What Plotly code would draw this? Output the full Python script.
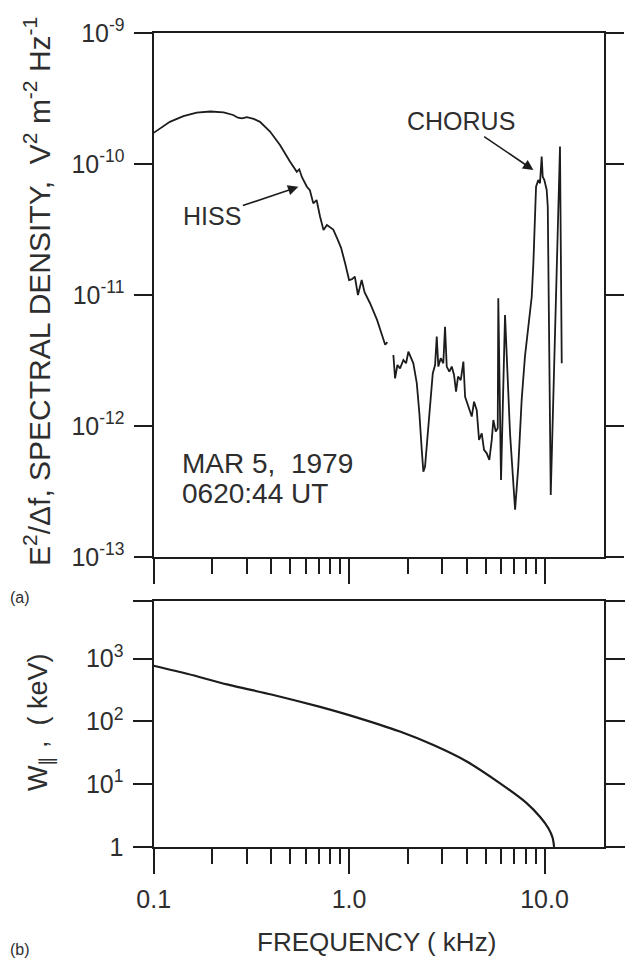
import math
import plotly.graph_objects as go

# ---------------- data ----------------
# Panel (a): spectral density vs frequency (kHz); None marks the gap in the trace
freq_khz = [0.100, 0.110, 0.121, 0.142, 0.166, 0.195, 0.228, 0.255, 0.270, 0.283,
            0.300, 0.325, 0.350, 0.394, 0.443, 0.499, 0.520, 0.540, 0.556, 0.574,
            0.608, 0.630, 0.656, 0.682, 0.710, 0.740, 0.770, 0.800, 0.830, 0.870,
            0.910, 0.955, 1.000, 1.035, 1.070, 1.110, 1.160, 1.200, 1.280, 1.390,
            1.460, 1.530, 1.570, None,
            1.685, 1.719, 1.767, 1.823, 1.896, 1.957, 2.011, 2.075, 2.132, 2.220,
            2.289, 2.354, 2.399, 2.447, 2.514, 2.596, 2.680, 2.754, 2.809, 2.862,
            2.944, 3.035, 3.097, 3.160, 3.258, 3.352, 3.444, 3.526, 3.610, 3.728,
            3.845, 3.923, 4.077, 4.243, 4.360, 4.500, 4.624, 4.773, 4.903, 5.063,
            5.220, 5.370, 5.472, 5.628, 5.763, 5.800, 5.990, 6.280, 6.660, 7.070,
            7.340, 7.640, 7.940, 8.260, 8.600, 8.770, 8.940, 9.050, 9.290, 9.480,
            9.670, 9.790, 9.980, 10.26, 10.39, 10.76, 12.00, 12.25]
spectral_density = [1.73e-10, 1.91e-10, 2.10e-10, 2.32e-10, 2.47e-10, 2.52e-10, 2.48e-10, 2.37e-10, 2.26e-10, 2.23e-10,
                    2.28e-10, 2.21e-10, 2.10e-10, 1.77e-10, 1.40e-10, 1.04e-10, 9.55e-11, 8.73e-11, 9.12e-11, 7.94e-11,
                    6.71e-11, 6.31e-11, 5.01e-11, 5.31e-11, 3.98e-11, 3.13e-11, 3.42e-11, 3.31e-11, 3.16e-11, 2.69e-11,
                    2.29e-11, 1.74e-11, 1.30e-11, 1.32e-11, 1.38e-11, 1.00e-11, 1.30e-11, 1.05e-11, 8.65e-12, 6.46e-12,
                    5.13e-12, 4.17e-12, 4.37e-12, None,
                    3.48e-12, 2.31e-12, 2.92e-12, 2.75e-12, 3.19e-12, 3.01e-12, 3.69e-12, 3.29e-12, 3.01e-12, 2.12e-12,
                    1.25e-12, 6.56e-13, 4.48e-13, 4.89e-13, 7.82e-13, 1.40e-12, 2.52e-12, 2.92e-12, 4.81e-12, 2.84e-12,
                    3.29e-12, 3.01e-12, 5.73e-12, 2.84e-12, 2.60e-12, 2.84e-12, 2.45e-12, 1.83e-12, 2.38e-12, 2.24e-12,
                    3.10e-12, 1.67e-12, 1.40e-12, 1.18e-12, 1.53e-12, 1.32e-12, 7.82e-13, 8.79e-13, 6.56e-13, 6.18e-13,
                    5.50e-13, 7.82e-13, 1.11e-12, 9.06e-13, 9.59e-13, 9.44e-12, 3.87e-13, 7.03e-12, 8.79e-13, 2.29e-13,
                    4.89e-13, 1.58e-12, 3.38e-12, 5.73e-12, 9.70e-12, 1.75e-11, 4.21e-11, 6.71e-11, 7.55e-11, 7.13e-11,
                    1.14e-10, 8.00e-11, 7.55e-11, 6.34e-11, 4.72e-11, 2.97e-13, 1.36e-10, 3.01e-12]

# Panel (b): parallel resonant energy vs frequency
freq_w_khz = [0.100, 0.150, 0.237, 0.400, 0.711, 1.00, 1.82, 2.70, 4.00, 5.90,
              8.10, 9.50, 10.45, 11.0, 11.2]
w_par_kev = [770, 570, 390, 269, 171, 126, 69, 42, 23, 10.4,
             5.0, 3.0, 2.0, 1.4, 1.0]

# tick labels
spec_tickvals = [1e-13, 1e-12, 1e-11, 1e-10, 1e-9]
spec_ticktext = ["10<sup>-13</sup>", "10<sup>-12</sup>", "10<sup>-11</sup>",
                 "10<sup>-10</sup>", "10<sup>-9</sup>"]
w_tickvals = [1, 10, 100, 1000]
w_ticktext = ["1", "10<sup>1</sup>", "10<sup>2</sup>", "10<sup>3</sup>"]
f_major = [0.1, 1.0, 10.0]
f_major_text = ["0.1", "1.0", "10.0"]
f_minor = [0.2, 0.3, 0.4, 0.5, 0.6, 0.7, 0.8, 0.9, 2, 3, 4, 5, 6, 7, 8, 9]

# ---------------- layout geometry ----------------
W, H = 631, 958
INK = "#1c1c1c"
TXT = "#2e2e2e"
FONT = "Liberation Sans, Arial, sans-serif"

def px_x(p):
    return p / W

def px_y(p):
    return (H - p) / H

x_dom = [px_x(153.5), px_x(603.5)]
top_dom = [px_y(557), px_y(33)]
bot_dom = [px_y(847), px_y(601)]
x_range = [-1.0008, 1.3018]
w_top = 3.918

fig = go.Figure()
fig.add_trace(go.Scatter(x=freq_khz, y=spectral_density, mode="lines",
                         line=dict(color=INK, width=1.8), connectgaps=False,
                         xaxis="x", yaxis="y", showlegend=False, hoverinfo="skip"))
fig.add_trace(go.Scatter(x=freq_w_khz, y=w_par_kev, mode="lines",
                         line=dict(color=INK, width=2.2, shape="spline", smoothing=0.6),
                         xaxis="x2", yaxis="y2", showlegend=False, hoverinfo="skip"))

common_x = dict(type="log", range=x_range, domain=x_dom, showgrid=False, zeroline=False,
                showline=True, linecolor=INK, linewidth=2, mirror=True,
                ticks="outside", tickmode="array", tickvals=f_major, ticktext=f_major_text,
                ticklen=25, tickwidth=2, tickcolor=INK,
                minor=dict(tickmode="array", tickvals=f_minor, ticks="outside",
                           ticklen=15, tickwidth=2, tickcolor=INK, showgrid=False))

fig.update_layout(
    width=W, height=H, margin=dict(l=0, r=0, t=0, b=0, autoexpand=False),
    paper_bgcolor="white", plot_bgcolor="white",
    font=dict(family=FONT, color=TXT),
    xaxis=dict(common_x, anchor="y", showticklabels=False),
    yaxis=dict(type="log", range=[-13.0008, -8.9992], domain=top_dom, anchor="x",
               showgrid=False, zeroline=False, showline=True, linecolor=INK, linewidth=2,
               mirror="ticks", ticks="outside", ticklen=18, tickwidth=2, tickcolor=INK,
               tickmode="array", tickvals=spec_tickvals, ticktext=spec_ticktext,
               tickfont=dict(size=25, family=FONT, color=TXT), ticklabelstandoff=4),
    xaxis2=dict(common_x, anchor="y2", showticklabels=True,
                tickfont=dict(size=25, family=FONT, color=TXT), ticklabelstandoff=4),
    yaxis2=dict(type="log", range=[-0.0008, w_top + 0.001], domain=bot_dom, anchor="x2",
                showgrid=False, zeroline=False, showline=True, linecolor=INK, linewidth=2,
                mirror="ticks", ticks="outside", ticklen=19, tickwidth=2, tickcolor=INK,
                tickmode="array", tickvals=w_tickvals + [10 ** w_top],
                ticktext=w_ticktext + [""],
                tickfont=dict(size=25, family=FONT, color=TXT), ticklabelstandoff=4),
)

ann = []
# axis titles
ann.append(dict(text="E<sup>2</sup>/\u0394f, SPECTRAL DENSITY,  V<sup>2</sup> m<sup>-2</sup> Hz<sup>-1</sup>",
                x=px_x(37), y=px_y(292), xref="paper", yref="paper", textangle=-90,
                showarrow=False, font=dict(size=30, color=TXT), xanchor="center", yanchor="middle"))
ann.append(dict(text="W<sub>\u2225</sub> ,  ( keV)", x=px_x(40), y=px_y(722), xref="paper", yref="paper",
                textangle=-90, showarrow=False, font=dict(size=27, color=TXT),
                xanchor="center", yanchor="middle"))
ann.append(dict(text="FREQUENCY ( kHz)", x=px_x(376), y=px_y(942), xref="paper", yref="paper",
                showarrow=False, font=dict(size=26, color=TXT), xanchor="center", yanchor="middle"))
# panel letters
ann.append(dict(text="(a)", x=px_x(8), y=px_y(597), xref="paper", yref="paper", showarrow=False,
                font=dict(size=16, color=TXT), xanchor="left", yanchor="middle"))
ann.append(dict(text="(b)", x=px_x(8), y=px_y(949), xref="paper", yref="paper", showarrow=False,
                font=dict(size=16, color=TXT), xanchor="left", yanchor="middle"))
# date
ann.append(dict(text="MAR 5,  1979", x=px_x(180), y=px_y(463), xref="paper", yref="paper",
                showarrow=False, font=dict(size=28, color=TXT), xanchor="left", yanchor="middle"))
ann.append(dict(text="0620:44 UT", x=px_x(180), y=px_y(493), xref="paper", yref="paper",
                showarrow=False, font=dict(size=28, color=TXT), xanchor="left", yanchor="middle"))
# arrows
ann.append(dict(text="HISS", x=math.log10(0.55), y=math.log10(6.7e-11), xref="x", yref="y",
                ax=-86, ay=29, showarrow=True, arrowhead=2, arrowsize=1.3, arrowwidth=1.6,
                arrowcolor=INK, standoff=0, font=dict(size=25, color=TXT)))
ann.append(dict(text="CHORUS", x=math.log10(8.77), y=math.log10(9.0e-11), xref="x", yref="y",
                ax=-72, ay=-49, showarrow=True, arrowhead=2, arrowsize=1.3, arrowwidth=1.6,
                arrowcolor=INK, standoff=0, font=dict(size=25, color=TXT)))
fig.update_layout(annotations=ann)

fig.write_html("out.html",
               config={"displayModeBar": False, "staticPlot": True},
               post_script="document.body.style.margin='0';document.body.style.padding='0';"
                           "document.documentElement.style.overflow='hidden';")
